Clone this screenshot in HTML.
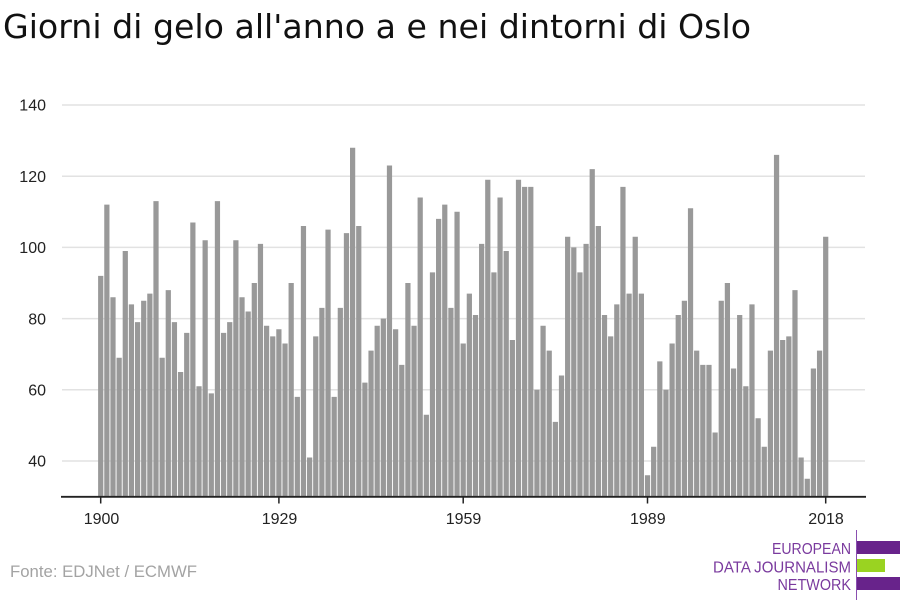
<!DOCTYPE html>
<html>
<head>
<meta charset="utf-8">
<style>
html,body{margin:0;padding:0;background:#fff;}
body{width:900px;height:600px;overflow:hidden;}
svg{display:block;}
text{font-family:"Liberation Sans","DejaVu Sans",sans-serif;}
</style>
</head>
<body>
<svg width="900" height="600" viewBox="0 0 900 600" xmlns="http://www.w3.org/2000/svg">
<rect x="0" y="0" width="900" height="600" fill="#fff"/>
<text x="3" y="38" font-size="33" fill="#111" style="font-family:'DejaVu Sans','Liberation Sans',sans-serif" textLength="748" lengthAdjust="spacingAndGlyphs">Giorni di gelo all'anno a e nei dintorni di Oslo</text>
<g stroke="#e2e2e2" stroke-width="1.5">
<line x1="62" y1="105" x2="865" y2="105"/>
<line x1="62" y1="176.2" x2="865" y2="176.2"/>
<line x1="62" y1="247.4" x2="865" y2="247.4"/>
<line x1="62" y1="318.6" x2="865" y2="318.6"/>
<line x1="62" y1="389.8" x2="865" y2="389.8"/>
<line x1="62" y1="461" x2="865" y2="461"/>
</g>
<g font-size="16" fill="#222" text-anchor="end">
<text x="46" y="110.7">140</text>
<text x="46" y="181.9">120</text>
<text x="46" y="253.1">100</text>
<text x="46" y="324.3">80</text>
<text x="46" y="395.5">60</text>
<text x="46" y="466.7">40</text>
</g>
<defs>
<clipPath id="cp" clipPathUnits="userSpaceOnUse"><rect x="0" y="0" width="900" height="496"/></clipPath>
</defs>
<g clip-path="url(#cp)">
<path transform="translate(98.1,603.4) scale(6.144,-3.56)" fill="#999999" d="
M0 0h.85v92h-.85z M1 0h.85v112h-.85z M2 0h.85v86h-.85z M3 0h.85v69h-.85z M4 0h.85v99h-.85z
M5 0h.85v84h-.85z M6 0h.85v79h-.85z M7 0h.85v85h-.85z M8 0h.85v87h-.85z M9 0h.85v113h-.85z
M10 0h.85v69h-.85z M11 0h.85v88h-.85z M12 0h.85v79h-.85z M13 0h.85v65h-.85z M14 0h.85v76h-.85z
M15 0h.85v107h-.85z M16 0h.85v61h-.85z M17 0h.85v102h-.85z M18 0h.85v59h-.85z M19 0h.85v113h-.85z
M20 0h.85v76h-.85z M21 0h.85v79h-.85z M22 0h.85v102h-.85z M23 0h.85v86h-.85z M24 0h.85v82h-.85z
M25 0h.85v90h-.85z M26 0h.85v101h-.85z M27 0h.85v78h-.85z M28 0h.85v75h-.85z M29 0h.85v77h-.85z
M30 0h.85v73h-.85z M31 0h.85v90h-.85z M32 0h.85v58h-.85z M33 0h.85v106h-.85z M34 0h.85v41h-.85z
M35 0h.85v75h-.85z M36 0h.85v83h-.85z M37 0h.85v105h-.85z M38 0h.85v58h-.85z M39 0h.85v83h-.85z
M40 0h.85v104h-.85z M41 0h.85v128h-.85z M42 0h.85v106h-.85z M43 0h.85v62h-.85z M44 0h.85v71h-.85z
M45 0h.85v78h-.85z M46 0h.85v80h-.85z M47 0h.85v123h-.85z M48 0h.85v77h-.85z M49 0h.85v67h-.85z
M50 0h.85v90h-.85z M51 0h.85v78h-.85z M52 0h.85v114h-.85z M53 0h.85v53h-.85z M54 0h.85v93h-.85z
M55 0h.85v108h-.85z M56 0h.85v112h-.85z M57 0h.85v83h-.85z M58 0h.85v110h-.85z M59 0h.85v73h-.85z
M60 0h.85v87h-.85z M61 0h.85v81h-.85z M62 0h.85v101h-.85z M63 0h.85v119h-.85z M64 0h.85v93h-.85z
M65 0h.85v114h-.85z M66 0h.85v99h-.85z M67 0h.85v74h-.85z M68 0h.85v119h-.85z M69 0h.85v117h-.85z
M70 0h.85v117h-.85z M71 0h.85v60h-.85z M72 0h.85v78h-.85z M73 0h.85v71h-.85z M74 0h.85v51h-.85z
M75 0h.85v64h-.85z M76 0h.85v103h-.85z M77 0h.85v100h-.85z M78 0h.85v93h-.85z M79 0h.85v101h-.85z
M80 0h.85v122h-.85z M81 0h.85v106h-.85z M82 0h.85v81h-.85z M83 0h.85v75h-.85z M84 0h.85v84h-.85z
M85 0h.85v117h-.85z M86 0h.85v87h-.85z M87 0h.85v103h-.85z M88 0h.85v87h-.85z M89 0h.85v36h-.85z
M90 0h.85v44h-.85z M91 0h.85v68h-.85z M92 0h.85v60h-.85z M93 0h.85v73h-.85z M94 0h.85v81h-.85z
M95 0h.85v85h-.85z M96 0h.85v111h-.85z M97 0h.85v71h-.85z M98 0h.85v67h-.85z M99 0h.85v67h-.85z
M100 0h.85v48h-.85z M101 0h.85v85h-.85z M102 0h.85v90h-.85z M103 0h.85v66h-.85z M104 0h.85v81h-.85z
M105 0h.85v61h-.85z M106 0h.85v84h-.85z M107 0h.85v52h-.85z M108 0h.85v44h-.85z M109 0h.85v71h-.85z
M110 0h.85v126h-.85z M111 0h.85v74h-.85z M112 0h.85v75h-.85z M113 0h.85v88h-.85z M114 0h.85v41h-.85z
M115 0h.85v35h-.85z M116 0h.85v66h-.85z M117 0h.85v71h-.85z M118 0h.85v103h-.85z"/>
</g>
<line x1="61" y1="496.8" x2="866" y2="496.8" stroke="#222" stroke-width="1.8"/>
<g stroke="#222" stroke-width="1.5">
<line x1="100.7" y1="497" x2="100.7" y2="503.5"/>
<line x1="278.9" y1="497" x2="278.9" y2="503.5"/>
<line x1="463.2" y1="497" x2="463.2" y2="503.5"/>
<line x1="647.5" y1="497" x2="647.5" y2="503.5"/>
<line x1="825.7" y1="497" x2="825.7" y2="503.5"/>
</g>
<g font-size="16" fill="#222" text-anchor="middle">
<text x="101.5" y="524">1900</text>
<text x="279.5" y="524">1929</text>
<text x="463.5" y="524">1959</text>
<text x="647.8" y="524">1989</text>
<text x="826" y="524">2018</text>
</g>
<text x="10" y="577" font-size="17" fill="#a3a3a3" textLength="187" lengthAdjust="spacingAndGlyphs">Fonte: EDJNet / ECMWF</text>
<line x1="856.5" y1="530" x2="856.5" y2="600" stroke="#8a4fb0" stroke-width="1"/>
<rect x="857" y="541" width="43" height="13" fill="#68238b"/>
<rect x="857" y="559" width="28" height="13" fill="#9ad321"/>
<rect x="857" y="577" width="43" height="13" fill="#68238b"/>
<g font-size="16" fill="#7a3a9e">
<text x="772" y="554" textLength="79" lengthAdjust="spacingAndGlyphs">EUROPEAN</text>
<text x="713" y="572.5" textLength="138" lengthAdjust="spacingAndGlyphs">DATA JOURNALISM</text>
<text x="777.5" y="590" textLength="73.5" lengthAdjust="spacingAndGlyphs">NETWORK</text>
</g>
</svg>
</body>
</html>
